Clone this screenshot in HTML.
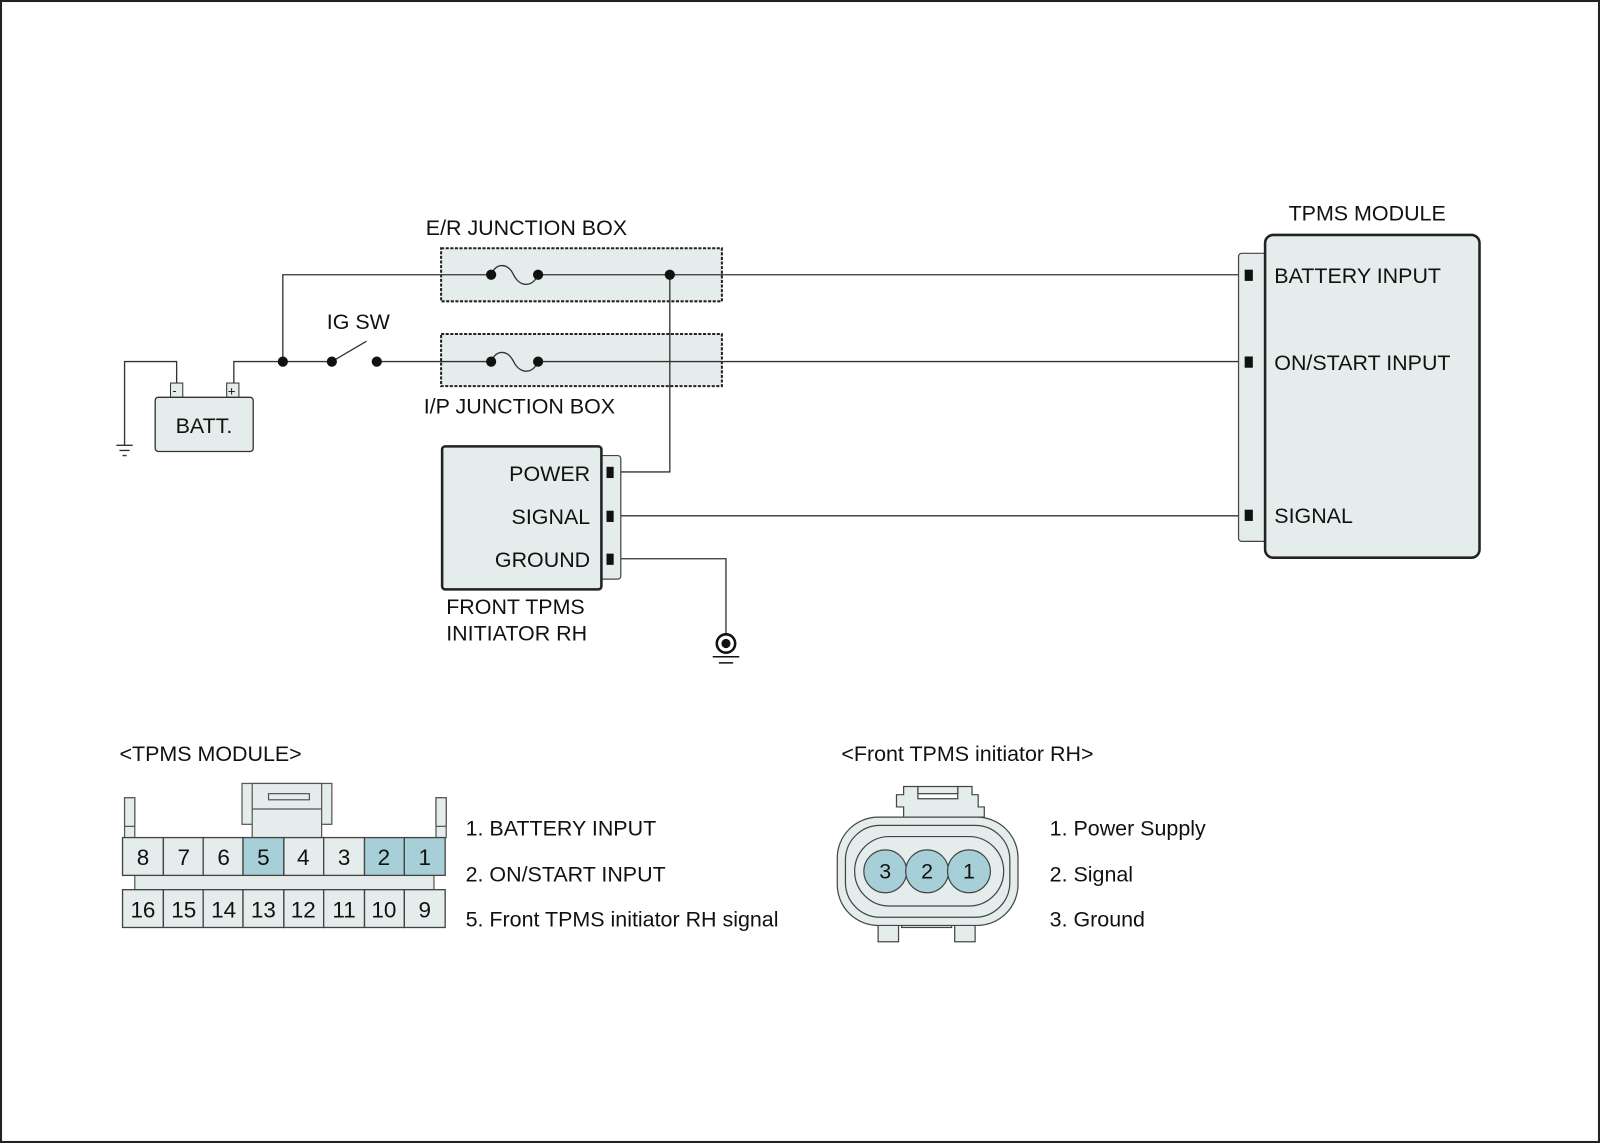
<!DOCTYPE html>
<html><head><meta charset="utf-8"><style>body{margin:0;background:#fff}svg{display:block}text{font-family:"Liberation Sans",Arial,sans-serif;fill:#111}</style></head>
<body>
<svg width="1600" height="1143" viewBox="0 0 1567 1119" preserveAspectRatio="none" xmlns="http://www.w3.org/2000/svg">
<rect x="1" y="1" width="1565" height="1117" fill="#fff" stroke="#222" stroke-width="2"/>
<g font-size="21">
<rect x="432" y="243" width="275" height="52" fill="#e4ecec" stroke="#222" stroke-width="2" stroke-dasharray="3,1.5"/>
<rect x="432" y="327" width="275" height="51" fill="#e4ecec" stroke="#222" stroke-width="2" stroke-dasharray="3,1.5"/>
<text x="417" y="230">E/R JUNCTION BOX</text>
<text x="415" y="405">I/P JUNCTION BOX</text>
<text x="320" y="322">IG SW</text>
<g fill="none" stroke="#333" stroke-width="1.3">
<path d="M277,354 V269 H481"/>
<path d="M527,269 H1222"/>
<path d="M656,269 V462 H600"/>
<path d="M229,384 V354 H325"/>
<path d="M325,354 L359,334"/>
<path d="M369,354 H481"/>
<path d="M527,354 H1222"/>
<path d="M173,384 V354 H122 V436"/>
<path d="M600,505 H1222"/>
<path d="M600,547 H711 V620"/>
<path d="M481,269 C486,257 497,257 503,269 S521,282 527,269"/>
<path d="M481,354 C486,342 497,342 503,354 S521,367 527,354"/>
<path d="M114,436 H130 M117,441 H127 M120,446 H124"/>
</g>
<g fill="#111">
<circle cx="481" cy="269" r="5"/><circle cx="527" cy="269" r="5"/><circle cx="656" cy="269" r="5"/>
<circle cx="481" cy="354" r="5"/><circle cx="527" cy="354" r="5"/>
<circle cx="277" cy="354" r="5"/><circle cx="325" cy="354" r="5"/><circle cx="369" cy="354" r="5"/>
</g>
<rect x="167" y="375" width="12" height="14" fill="#e4ecec" stroke="#333"/>
<rect x="222" y="375" width="12" height="14" fill="#e4ecec" stroke="#333"/>
<text x="169" y="386" font-size="12">-</text><text x="223" y="387" font-size="13">+</text>
<rect x="152" y="389" width="96" height="53" rx="3" fill="#e4ecec" stroke="#333" stroke-width="1.3"/>
<text x="172" y="424">BATT.</text>
<rect x="585" y="446" width="23" height="121" rx="3" fill="#e4ecec" stroke="#444" stroke-width="1.2"/>
<rect x="433" y="437" width="156" height="140" rx="3" fill="#e4ecec" stroke="#222" stroke-width="2.5"/>
<rect x="594" y="457" width="7" height="11" fill="#111"/><rect x="594" y="500" width="7" height="11" fill="#111"/><rect x="594" y="542" width="7" height="11" fill="#111"/>
<text x="578" y="471" text-anchor="end">POWER</text>
<text x="578" y="513" text-anchor="end">SIGNAL</text>
<text x="578" y="555" text-anchor="end">GROUND</text>
<text x="437" y="601">FRONT TPMS</text>
<text x="437" y="627">INITIATOR RH</text>
<circle cx="711" cy="630" r="9" fill="#fff" stroke="#111" stroke-width="2.5"/><circle cx="711" cy="630" r="4.5" fill="#111"/>
<path d="M698,643 H724 M704,649 H718" stroke="#111" stroke-width="1.5"/>
<rect x="1213" y="248" width="30" height="282" rx="3" fill="#e4ecec" stroke="#444" stroke-width="1.2"/>
<rect x="1239" y="230" width="210" height="316" rx="8" fill="#e4ecec" stroke="#222" stroke-width="2.5"/>
<rect x="1219" y="264" width="8" height="11" fill="#111"/><rect x="1219" y="349" width="8" height="11" fill="#111"/><rect x="1219" y="499" width="8" height="11" fill="#111"/>
<text x="1262" y="216">TPMS MODULE</text>
<text x="1248" y="277">BATTERY INPUT</text>
<text x="1248" y="362">ON/START INPUT</text>
<text x="1248" y="512">SIGNAL</text>
<text x="117" y="745">&lt;TPMS MODULE&gt;</text>
<g stroke="#555" stroke-width="1.2" fill="#e4ecec">
<rect x="122" y="781" width="10" height="39"/><rect x="122" y="781" width="10" height="28"/>
<rect x="427" y="781" width="10" height="39"/><rect x="427" y="781" width="10" height="28"/>
<rect x="237" y="767" width="88" height="40"/>
<rect x="247" y="767" width="68" height="53"/>
<rect x="263" y="777" width="40" height="6"/>
<path d="M247,792 H315" fill="none"/>
<rect x="132" y="857" width="293" height="14"/>
</g>
<g stroke="#444" stroke-width="1.3">
<rect x="120" y="820" width="40" height="37" fill="#e4ecec"/><rect x="160" y="820" width="39" height="37" fill="#e4ecec"/><rect x="199" y="820" width="39" height="37" fill="#e4ecec"/><rect x="238" y="820" width="40" height="37" fill="#a7cfd7"/><rect x="278" y="820" width="39" height="37" fill="#e4ecec"/><rect x="317" y="820" width="40" height="37" fill="#e4ecec"/><rect x="357" y="820" width="39" height="37" fill="#a7cfd7"/><rect x="396" y="820" width="40" height="37" fill="#a7cfd7"/>
<rect x="120" y="871" width="40" height="37" fill="#e4ecec"/><rect x="160" y="871" width="39" height="37" fill="#e4ecec"/><rect x="199" y="871" width="39" height="37" fill="#e4ecec"/><rect x="238" y="871" width="40" height="37" fill="#e4ecec"/><rect x="278" y="871" width="39" height="37" fill="#e4ecec"/><rect x="317" y="871" width="40" height="37" fill="#e4ecec"/><rect x="357" y="871" width="39" height="37" fill="#e4ecec"/><rect x="396" y="871" width="40" height="37" fill="#e4ecec"/>
</g>
<g font-size="22" text-anchor="middle">
<text x="140" y="847">8</text><text x="180" y="847">7</text><text x="219" y="847">6</text><text x="258" y="847">5</text><text x="297" y="847">4</text><text x="337" y="847">3</text><text x="376" y="847">2</text><text x="416" y="847">1</text>
<text x="140" y="898">16</text><text x="180" y="898">15</text><text x="219" y="898">14</text><text x="258" y="898">13</text><text x="297" y="898">12</text><text x="337" y="898">11</text><text x="376" y="898">10</text><text x="416" y="898">9</text>
</g>
<text x="456" y="818">1. BATTERY INPUT</text>
<text x="456" y="863">2. ON/START INPUT</text>
<text x="456" y="907">5. Front TPMS initiator RH signal</text>
<text x="824" y="745">&lt;Front TPMS initiator RH&gt;</text>
<g stroke="#444" stroke-width="1.2" fill="#e4ecec">
<rect x="860" y="898" width="20" height="24"/><rect x="935" y="898" width="20" height="24"/>
<rect x="883" y="898" width="49" height="10"/>
<path d="M885,800 V790 H878 V778 H885 V770 H899 V782 H938 V770 H952 V778 H958 V790 H964 V800 Z"/>
<rect x="899" y="770" width="39" height="7"/>
<rect x="820" y="800" width="177" height="106" rx="40"/>
<rect x="828" y="808" width="161" height="90" rx="34" fill="none"/>
<rect x="837" y="819" width="146" height="68" rx="34"/>
<circle cx="867" cy="853" r="21" fill="#a7cfd7"/><circle cx="908" cy="853" r="21" fill="#a7cfd7"/><circle cx="949" cy="853" r="21" fill="#a7cfd7"/>
</g>
<g font-size="21" text-anchor="middle"><text x="867" y="860">3</text><text x="908" y="860">2</text><text x="949" y="860">1</text></g>
<text x="1028" y="818">1. Power Supply</text>
<text x="1028" y="863">2. Signal</text>
<text x="1028" y="907">3. Ground</text>
</g>
</svg>
</body></html>
